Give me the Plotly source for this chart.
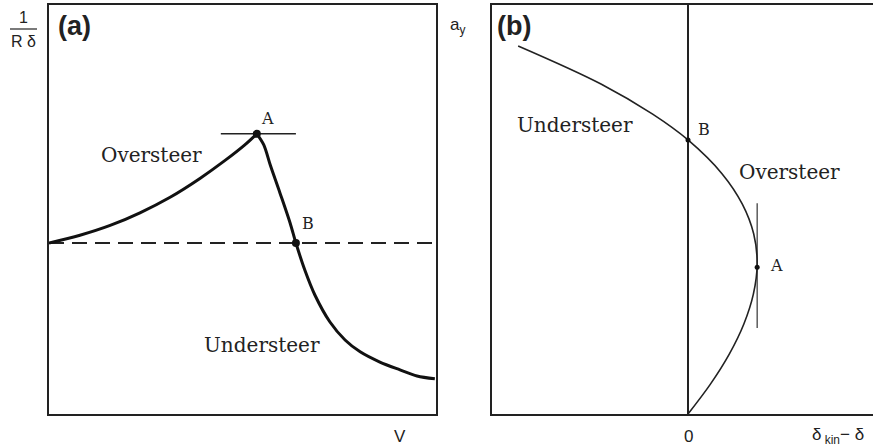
import plotly.graph_objects as go

W, H = 873, 447

# Panel (a): curvature ratio 1/(R*delta) against speed V
# rising (oversteer) branch up to the peak A, then the falling branch
v_rise = [0.00, 0.80, 1.58, 2.35, 3.13, 3.90, 4.55, 5.06, 5.37]
k_rise = [4.18, 4.37, 4.61, 4.92, 5.30, 5.76, 6.20, 6.58, 6.85]
v_fall = [5.37, 5.55, 5.72, 5.97, 6.23, 6.38, 6.61, 6.87, 7.26, 7.65, 8.04, 8.55, 9.07, 9.51, 9.97]
k_fall = [6.85, 6.58, 6.08, 5.40, 4.67, 4.18, 3.52, 2.91, 2.25, 1.81, 1.52, 1.27, 1.08, 0.93, 0.86]
neutral_level = 4.18
point_a_a = (5.37, 6.85)
point_b_a = (6.38, 4.18)
tangent_a_v = [4.44, 6.38]

# Panel (b): lateral acceleration a_y against delta_kin - delta
d_curve = [0.00, 0.59, 1.09, 1.47, 1.72, 1.82, 1.73, 1.43, 0.90, 0.00, -0.93, -2.29, -4.47]
ay_curve = [0.00, 0.73, 1.47, 2.20, 2.93, 3.67, 4.40, 5.13, 5.87, 6.70, 7.33, 8.07, 9.00]
point_a_b = (1.82, 3.59)
point_b_b = (0.00, 6.70)
tangent_b_ay = [2.10, 5.15]

fig = go.Figure()

# --- panel (a) ---
fig.add_trace(go.Scatter(x=[0, 10], y=[neutral_level, neutral_level], mode="lines",
                         line=dict(color="#222", width=2, dash="15px,8px"),
                         xaxis="x", yaxis="y", hoverinfo="skip"))
fig.add_trace(go.Scatter(x=tangent_a_v, y=[point_a_a[1]] * 2, mode="lines",
                         line=dict(color="#222", width=1.5), xaxis="x", yaxis="y"))
for vx, ky in ((v_rise, k_rise), (v_fall, k_fall)):
    fig.add_trace(go.Scatter(x=vx, y=ky, mode="lines",
                             line=dict(color="#111", width=3, shape="spline", smoothing=0.9),
                             xaxis="x", yaxis="y"))
fig.add_trace(go.Scatter(x=[point_a_a[0], point_b_a[0]], y=[point_a_a[1], point_b_a[1]],
                         mode="markers", marker=dict(color="#111", size=8),
                         xaxis="x", yaxis="y"))

# --- panel (b) ---
fig.add_trace(go.Scatter(x=[0, 0], y=[0, 10], mode="lines",
                         line=dict(color="#222", width=2), xaxis="x2", yaxis="y2"))
fig.add_trace(go.Scatter(x=[point_a_b[0]] * 2, y=tangent_b_ay, mode="lines",
                         line=dict(color="#333", width=1.2), xaxis="x2", yaxis="y2"))
fig.add_trace(go.Scatter(x=d_curve, y=ay_curve, mode="lines",
                         line=dict(color="#222", width=1.6, shape="spline", smoothing=1.0),
                         xaxis="x2", yaxis="y2"))
fig.add_trace(go.Scatter(x=[point_a_b[0], point_b_b[0]], y=[point_a_b[1], point_b_b[1]],
                         mode="markers", marker=dict(color="#111", size=5),
                         xaxis="x2", yaxis="y2"))

ydom = [1 - 414 / H, 1 - 5 / H]
axis_common = dict(showgrid=False, zeroline=False, showticklabels=False, ticks="",
                   showline=True, linecolor="#222", linewidth=2, fixedrange=True)

fig.update_layout(
    width=W, height=H, margin=dict(l=0, r=0, t=0, b=0),
    paper_bgcolor="white", plot_bgcolor="white", showlegend=False,
    xaxis=dict(domain=[49 / W, 436 / W], range=[0, 10], mirror=True, anchor="y", **axis_common),
    yaxis=dict(domain=ydom, range=[0, 10], mirror=True, anchor="x", **axis_common),
    xaxis2=dict(domain=[492 / W, 1.0], range=[(492 - 688) / 38, (873 - 688) / 38],
                mirror=True, anchor="y2", **axis_common),
    yaxis2=dict(domain=ydom, range=[0, 10], mirror=False, anchor="x2", **axis_common),
)

sans = "Liberation Sans, Arial, sans-serif"
serif = "DejaVu Serif, serif"


def px_note(text, px, py, size, family, bold=False):
    fig.add_annotation(x=px / W, y=1 - py / H, xref="paper", yref="paper",
                       text=f"<b>{text}</b>" if bold else text, showarrow=False,
                       xanchor="center", yanchor="middle",
                       font=dict(family=family, size=size, color="#222"))


# axis labels
px_note("1", 23, 17, 16, sans)
fig.add_shape(type="line", xref="paper", yref="paper", x0=10 / W, x1=37 / W,
              y0=1 - 29 / H, y1=1 - 29 / H, line=dict(color="#222", width=1.2))
px_note("R δ", 23, 41, 16, sans)
px_note("V", 400, 436, 17, sans)
px_note("a<sub>y</sub>", 457, 26, 17, sans)
px_note("0", 688, 436, 17, sans)
px_note("δ<sub> kin</sub>− δ", 838, 436, 17, sans)

# panel tags
px_note("(a)", 74, 26, 27, sans, bold=True)
px_note("(b)", 514, 26, 27, sans, bold=True)

# region and point labels
px_note("Oversteer", 151, 155, 20, serif)
px_note("Understeer", 262, 345, 20, serif)
px_note("A", 267, 118, 16, serif)
px_note("B", 308, 223, 16, serif)
px_note("Understeer", 575, 125, 20, serif)
px_note("Oversteer", 789, 172, 20, serif)
px_note("B", 704, 130, 16, serif)
px_note("A", 776, 265, 16, serif)

fig.write_html("out.html")
